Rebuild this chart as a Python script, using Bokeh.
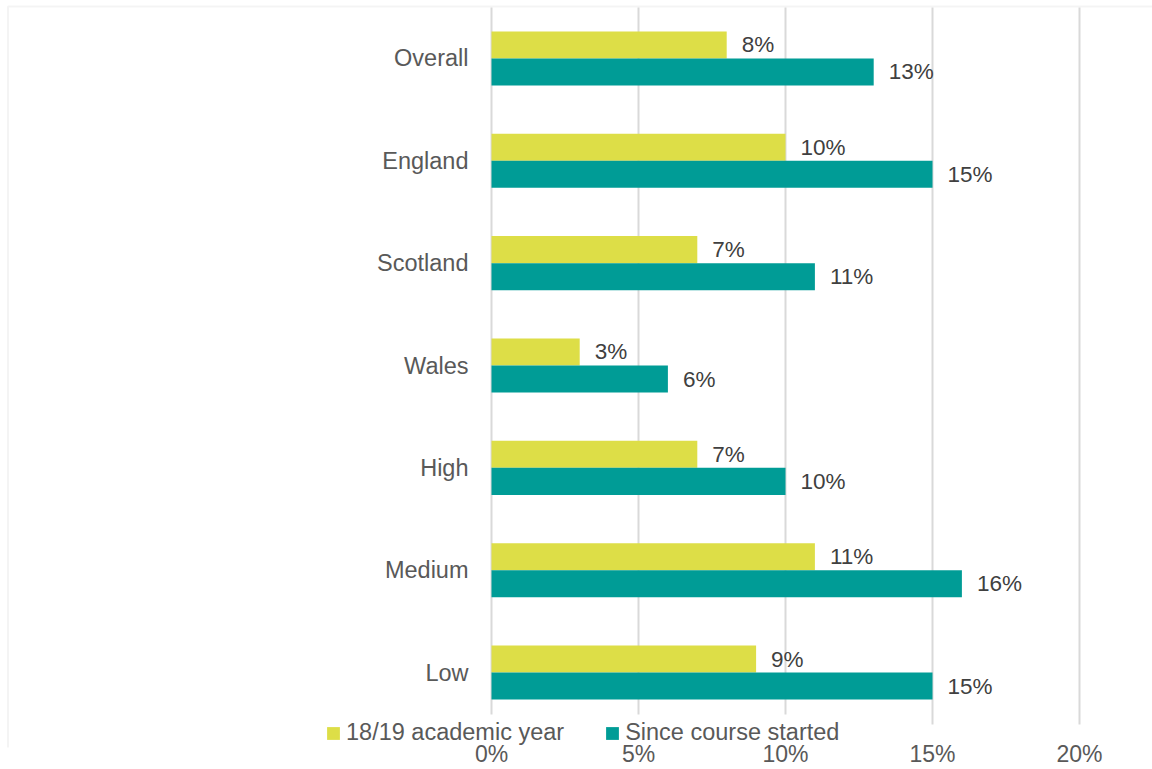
from bokeh.plotting import figure
from bokeh.models import (ColumnDataSource, Range1d, Legend, LegendItem, FixedTicker,
                          Grid, BoxAnnotation)
from bokeh.core.properties import value
from bokeh.embed import file_html
from bokeh.resources import INLINE

categories = ["Overall", "England", "Scotland", "Wales", "High", "Medium", "Low"]
academic_year = [8, 10, 7, 3, 7, 11, 9]
since_started = [13, 15, 11, 6, 10, 16, 15]
series_names = ["18/19 academic year", "Since course started"]
x_ticks = [0, 5, 10, 15, 20]
x_tick_labels = ["0%", "5%", "10%", "15%", "20%"]

YELLOW = "#DDDE47"
TEAL = "#009C96"
GRID = "#D9D9D9"
TXT = "#595959"
FONT = "Liberation Sans"

W, H = 1152, 769
n = len(categories)
ypos = [n - 1 - i for i in range(n)]
bh = 0.264

# scale: 29.4 px per percentage point, 102.5 px per category band
XPX, YPX = 29.4, 102.5
X0 = -491 / XPX
X1 = (W - 491) / XPX
Y1 = (n - 1) + 58 / YPX
Y0 = -(748 - 673) / YPX

src = ColumnDataSource(dict(
    cat=categories,
    y=ypos,
    ya=[v + bh / 2 for v in ypos],
    yb=[v - bh / 2 for v in ypos],
    a=academic_year,
    b=since_started,
    zero=[0] * n,
    a_lbl=[f"{v}%" for v in academic_year],
    b_lbl=[f"{v}%" for v in since_started],
))

p = figure(
    width=W, height=H,
    x_range=Range1d(X0, X1), y_range=Range1d(Y0, Y1),
    output_backend="svg", toolbar_location=None, y_axis_location=None,
    min_border_left=0, min_border_right=0, min_border_top=0, min_border_bottom=21,
)
p.outline_line_color = None
p.background_fill_color = "white"
p.border_fill_color = "white"

# chart border (light grey frame as in the original)
p.add_layout(BoxAnnotation(left=X0 + 7.5 / XPX, top=Y1 - 6 / YPX, right=X1 + 5, bottom=Y0 - 5,
                           fill_alpha=0, line_color=GRID, line_width=2, level="underlay"))

ra = p.hbar(y="ya", right="a", left=0, height=bh, source=src,
            fill_color=YELLOW, line_color=None)
rb = p.hbar(y="yb", right="b", left=0, height=bh, source=src,
            fill_color=TEAL, line_color=None)

# data labels
for xc, yc, lc in (("a", "ya", "a_lbl"), ("b", "yb", "b_lbl")):
    p.text(x=xc, y=yc, text=lc, source=src, x_offset=15,
           text_align="left", text_baseline="middle", text_font=value(FONT),
           text_font_size="22.5px", text_color="#404040")

# category labels (left of the zero line)
p.text(x="zero", y="y", text="cat", source=src, x_offset=-23,
       text_align="right", text_baseline="middle", text_font=value(FONT),
       text_font_size="23.5px", text_color=TXT)

# grid
p.ygrid.grid_line_color = None
g = p.xgrid[0]
g.grid_line_color = GRID
g.grid_line_width = 2
g.ticker = FixedTicker(ticks=x_ticks[:3])
g2 = Grid(dimension=0, ticker=FixedTicker(ticks=x_ticks[3:]),
          grid_line_color=GRID, grid_line_width=2)
p.add_layout(g2)
if "cross_bounds" in g.properties():
    g.cross_bounds = (Y0 + (748 - 715) / YPX, Y1 - 7 / YPX)
    g2.cross_bounds = (Y0 + (748 - 725) / YPX, Y1 - 7 / YPX)

ax = p.xaxis[0]
ax.ticker = FixedTicker(ticks=x_ticks)
ax.major_label_overrides = {t: l for t, l in zip(x_ticks, x_tick_labels)}
ax.axis_line_color = None
ax.major_tick_line_color = None
ax.minor_tick_line_color = None
ax.major_tick_out = 0
ax.major_tick_in = 0
ax.major_label_text_font = FONT
ax.major_label_text_font_size = "23px"
ax.major_label_text_color = TXT
ax.major_label_standoff = -7

legend = Legend(
    items=[LegendItem(label=series_names[0], renderers=[ra]),
           LegendItem(label=series_names[1], renderers=[rb])],
    orientation="horizontal", location=(325, 1),
    glyph_width=16, glyph_height=16, label_standoff=5, spacing=40,
    padding=1, margin=0,
    label_text_font=FONT, label_text_font_size="23.5px", label_text_color=TXT,
    border_line_color=None, background_fill_alpha=0.0,
)
p.add_layout(legend)

open("out.html", "w").write(file_html(p, INLINE))
